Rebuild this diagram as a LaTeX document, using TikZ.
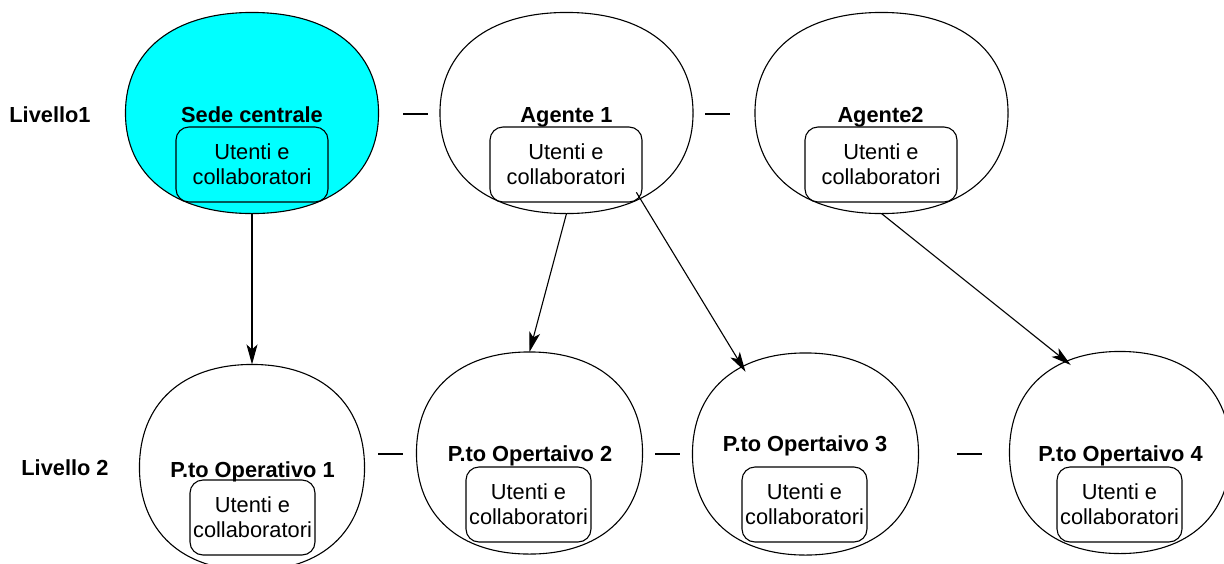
\documentclass[tikz,border=0pt]{standalone}
\usepackage{fontspec}
\setmainfont{Liberation Sans}
\usetikzlibrary{arrows.meta,shapes.geometric,calc}

\definecolor{ciano}{RGB}{0,255,255}

% contorno "squadrato" attorno a un nodo ellittico
\newcommand{\curvatura}{0.62}
\newcommand{\contorno}[2][]{%
  \draw[#1] (#2.east)
    .. controls ($(#2.east)!\curvatura!(#2.east|-#2.north)$) and ($(#2.north)!\curvatura!(#2.east|-#2.north)$) .. (#2.north)
    .. controls ($(#2.north)!\curvatura!(#2.west|-#2.north)$) and ($(#2.west)!\curvatura!(#2.west|-#2.north)$) .. (#2.west)
    .. controls ($(#2.west)!\curvatura!(#2.west|-#2.south)$) and ($(#2.south)!\curvatura!(#2.west|-#2.south)$) .. (#2.south)
    .. controls ($(#2.south)!\curvatura!(#2.east|-#2.south)$) and ($(#2.east)!\curvatura!(#2.east|-#2.south)$) .. (#2.east) -- cycle;}

\begin{document}
\begin{tikzpicture}[x=1pt,y=-1pt,>={Stealth[length=20pt,width=11pt,inset=5pt]},
    line width=1.1pt,font=\fontsize{21.8}{25}\selectfont,
    alto/.style={ellipse,inner sep=0pt,minimum width=252pt,minimum height=200pt},
    basso/.style={ellipse,inner sep=0pt,minimum width=225pt,minimum height=201pt},
    titolo/.style={font=\fontsize{21.8}{25}\selectfont\bfseries,anchor=base,inner sep=0pt},
    utenti/.style={draw,rounded corners=13pt,align=center,inner sep=0pt,
      minimum width=125pt,minimum height=75pt}]

  \useasboundingbox (0,0) rectangle (1224,563);

  % livello 1
  \node[alto] (sede) at (252,113) {};
  \node[alto] (ag1) at (566.5,113) {};
  \node[alto] (ag2) at (881.5,113) {};
  \contorno[fill=ciano]{sede}
  \contorno{ag1}
  \contorno{ag2}

  \node[titolo] (liv1) at (50,122) {Livello1};
  \node[titolo] (tsede) at (252,122.5) {Sede centrale};
  \node[titolo] (tag1) at (566.5,122.5) {Agente 1};
  \node[titolo] (tag2) at (880.5,122.5) {Agente2};

  \node[utenti,minimum width=152pt] (usede) at (252,164.5) {Utenti e\\collaboratori};
  \node[utenti,minimum width=152pt] (uag1) at (566,164.5) {Utenti e\\collaboratori};
  \node[utenti,minimum width=152pt] (uag2) at (881,164.5) {Utenti e\\collaboratori};

  % livello 2
  \node[basso,minimum width=224pt,minimum height=205pt] (op1) at (252,467.5) {};
  \node[basso] (op2) at (529.5,453) {};
  \node[basso] (op3) at (805.5,454) {};
  \node[basso,minimum width=220pt] (op4) at (1120,452.5) {};
  \contorno{op1}
  \contorno{op2}
  \contorno{op3}
  \contorno{op4}

  \node[titolo] (liv2) at (65,475) {Livello 2};
  \node[titolo] (top1) at (252.5,477) {P.to Operativo 1};
  \node[titolo] (top2) at (530,461) {P.to Opertaivo 2};
  \node[titolo] (top3) at (805,451) {P.to Opertaivo 3};
  \node[titolo] (top4) at (1120.5,461) {P.to Opertaivo 4};

  \node[utenti] (uop1) at (252.5,517.5) {Utenti e\\collaboratori};
  \node[utenti] (uop2) at (528.5,504.5) {Utenti e\\collaboratori};
  \node[utenti] (uop3) at (804.5,504.5) {Utenti e\\collaboratori};
  \node[utenti] (uop4) at (1119.5,504.5) {Utenti e\\collaboratori};

  % trattini tra i nodi
  \foreach \x/\y in {415.5/114,717.5/114,390.5/454,667.5/454,969.5/454}
    \draw (\x-12.5,\y) -- (\x+12.5,\y);

  \draw[->] (sede) -- (op1);
  \draw[->] (ag1.south) -- (op2.north);
  \draw[->,shorten <=-4pt,shorten >=-3pt] (ag1.-49) -- (op3.126);
  \draw[->,shorten >=-3pt] (ag2.south) -- (op4.120);

\end{tikzpicture}
\end{document}
